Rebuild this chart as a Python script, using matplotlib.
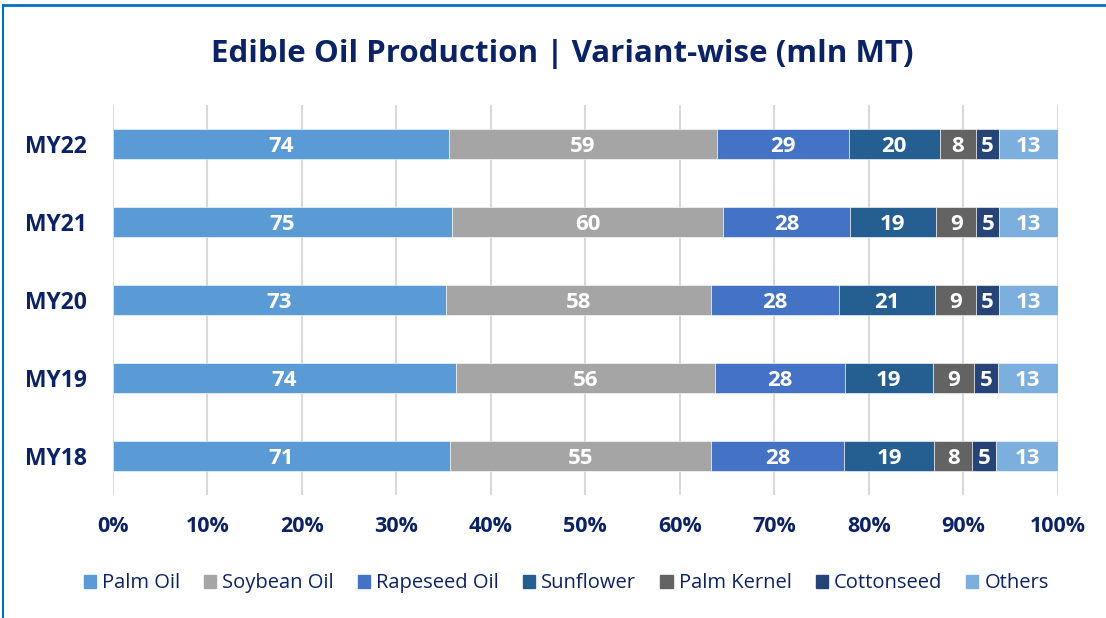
import numpy as np
import matplotlib as mpl
import matplotlib.pyplot as plt
from matplotlib.patches import Rectangle
from matplotlib.lines import Line2D

# data (mln MT)
years = ['MY18', 'MY19', 'MY20', 'MY21', 'MY22']
variants = ['Palm Oil', 'Soybean Oil', 'Rapeseed Oil', 'Sunflower',
            'Palm Kernel', 'Cottonseed', 'Others']
palm_oil = [71, 74, 73, 75, 74]
soybean_oil = [55, 56, 58, 60, 59]
rapeseed_oil = [28, 28, 28, 28, 29]
sunflower = [19, 19, 21, 19, 20]
palm_kernel = [8, 9, 9, 9, 8]
cottonseed = [5, 5, 5, 5, 5]
others = [13, 13, 13, 13, 13]

colors = ['#5B9BD5', '#A5A5A5', '#4472C4', '#255E91',
          '#636363', '#264478', '#7CAFDD']
navy = '#0B2265'

plt.rcParams['font.family'] = ['Open Sans', 'DejaVu Sans']

series = np.array([palm_oil, soybean_oil, rapeseed_oil, sunflower,
                   palm_kernel, cottonseed, others], dtype=float)
totals = series.sum(axis=0)
shares = series / totals * 100

fig = plt.figure(figsize=(11.06, 6.18), dpi=100)
ax = fig.add_axes([0.102, 0.199, 0.8545, 0.631])

y = np.arange(len(years))
left = np.zeros(len(years))
for i, name in enumerate(variants):
    ax.barh(y, shares[i], left=left, height=0.39, color=colors[i],
            edgecolor='white', linewidth=0.4, label=name, zorder=3)
    for j in range(len(years)):
        # baseline placed so the digits sit in the middle of the bar
        ax.text(left[j] + shares[i][j] / 2, y[j] - 0.1, '%d' % series[i][j],
                ha='center', va='baseline', color='white', fontsize=16,
                fontweight='bold', zorder=4)
    left += shares[i]

ax.set_xlim(0, 100)
ax.set_ylim(-0.5, 4.5)
ax.set_xticks(np.arange(0, 101, 10))
ax.set_xticklabels(['%d%%' % v for v in range(0, 101, 10)])
ax.set_yticks(y)
ax.set_yticklabels(years)
ax.tick_params(length=0, labelcolor=navy)
ax.tick_params(axis='y', pad=19, labelsize=16.5)
ax.tick_params(axis='x', pad=15, labelsize=15.5)
for lab in ax.get_xticklabels() + ax.get_yticklabels():
    lab.set_fontweight('bold')
ax.grid(axis='x', color='#D9D9D9', linewidth=1.5, zorder=0)
for s in ax.spines.values():
    s.set_visible(False)

fig.text(0.508, 0.912, 'Edible Oil Production | Variant-wise (mln MT)',
         ha='center', va='center', fontsize=22.5, fontweight='bold', color=navy)

handles = [Rectangle((0, 0), 1, 1, color=c) for c in colors]
leg = fig.legend(handles, variants, loc='center', bbox_to_anchor=(0.512, 0.056),
                 ncol=7, frameon=False, fontsize=14.5, handlelength=0.6,
                 handleheight=0.6, handletextpad=0.3, columnspacing=1.2)
for t in leg.get_texts():
    t.set_color(navy)

# outer frame (top and left edges)
fig.add_artist(Line2D([0.003, 1.0], [0.992, 0.992], color='#0070C0', linewidth=2))
fig.add_artist(Line2D([0.003, 0.003], [0.0, 0.992], color='#0070C0', linewidth=1.5))

plt.savefig('out.png', dpi=100)
